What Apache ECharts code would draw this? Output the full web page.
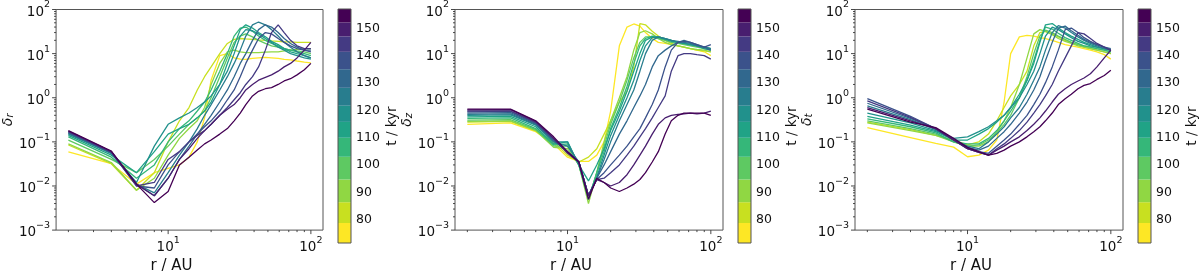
<!DOCTYPE html>
<html><head><meta charset="utf-8">
<script src="https://cdn.jsdelivr.net/npm/echarts@6/dist/echarts.min.js"></script>
<style>html,body{margin:0;padding:0;background:#fff}#c{width:1200px;height:279px}</style>
</head><body><div id="c"></div>
<script>
// ---------- data ----------
const radii = [2, 4, 6, 8, 10, 12, 14, 16, 18, 20, 23, 26, 29, 32, 35, 39, 43, 48, 53, 59, 65, 72, 80, 90, 100];
const times = [75.2, 82.5, 90.4, 99.1, 107.0, 113.0, 118.6, 124.8, 131.7, 138.4, 144.4, 149.7, 154.6];
const lineColors = ['#fde725', '#c8e020', '#90d743', '#5ec962', '#35b779', '#20a386', '#21918c', '#287d8e', '#31688e', '#3b528b', '#443a83', '#481e6f', '#440154'];

const deltaR = [
  [0.059, 0.032, 0.011, 0.02, 0.025, 0.03, 0.045, 0.1, 0.35, 2.5, 9, 10, 8, 7.5, 7.4, 7.8, 8.0, 8.2, 8.0, 7.8, 7.4, 7.2, 6.8, 6.4, 6.2],
  [0.085, 0.032, 0.008, 0.02, 0.1, 0.3, 0.6, 1.5, 3, 5, 10, 17, 21, 22, 21.5, 21, 20.5, 20, 19.5, 19, 18.5, 18.5, 18, 18, 18],
  [0.09, 0.034, 0.008, 0.015, 0.05, 0.12, 0.2, 0.3, 0.6, 2, 6, 11, 12, 11, 10.5, 10.5, 10.5, 10.8, 11, 11, 11.5, 12, 12.5, 13, 13],
  [0.11, 0.04, 0.02, 0.04, 0.08, 0.15, 0.25, 0.35, 0.5, 1, 3, 8, 18, 25, 28, 24, 20, 17, 15, 14, 13, 12, 11.5, 11, 10],
  [0.13, 0.045, 0.015, 0.03, 0.1, 0.2, 0.3, 0.5, 0.8, 1.5, 4, 10, 25, 38, 40, 32, 25, 20, 17, 15, 13, 12, 11, 10, 9],
  [0.14, 0.05, 0.02, 0.06, 0.15, 0.2, 0.25, 0.35, 0.5, 0.8, 2, 6, 15, 35, 45, 38, 30, 24, 19, 16, 13, 11, 10, 9, 8],
  [0.15, 0.055, 0.012, 0.08, 0.25, 0.35, 0.45, 0.6, 0.8, 1.1, 2, 4, 10, 25, 35, 33, 28, 22, 18, 14, 12, 10, 9, 8, 7.5],
  [0.155, 0.055, 0.011, 0.007, 0.02, 0.05, 0.1, 0.2, 0.4, 0.7, 1.5, 3, 6, 12, 25, 45, 52, 45, 35, 25, 18, 14, 11, 9, 8],
  [0.16, 0.057, 0.011, 0.006, 0.015, 0.04, 0.08, 0.15, 0.25, 0.4, 0.8, 1.5, 3, 6, 10, 20, 35, 45, 40, 30, 22, 17, 14, 12, 12],
  [0.165, 0.058, 0.01, 0.009, 0.03, 0.06, 0.1, 0.15, 0.22, 0.3, 0.5, 0.9, 1.5, 3, 6, 12, 22, 30, 28, 22, 18, 15, 13, 12, 11],
  [0.17, 0.06, 0.01, 0.012, 0.04, 0.06, 0.1, 0.14, 0.18, 0.25, 0.4, 0.6, 0.9, 1.3, 2, 3, 5, 12, 30, 45, 30, 20, 15, 13, 13],
  [0.175, 0.06, 0.011, 0.006, 0.015, 0.04, 0.07, 0.12, 0.18, 0.25, 0.4, 0.55, 0.7, 1.0, 1.5, 2.0, 2.5, 2.9, 3.3, 4, 5, 6, 8, 12, 18],
  [0.18, 0.062, 0.011, 0.0042, 0.0075, 0.03, 0.045, 0.065, 0.09, 0.11, 0.15, 0.2, 0.3, 0.45, 0.7, 1.1, 1.4, 1.6, 1.7, 2.0, 2.4, 2.7, 3.3, 4.3, 6.0]
];

const deltaZ = [
  [0.25, 0.27, 0.17, 0.09, 0.045, 0.036, 0.036, 0.05, 0.1, 0.5, 15, 40, 47, 42, 30, 22, 18, 17, 16, 15, 14, 13, 12, 11, 9],
  [0.28, 0.29, 0.18, 0.1, 0.05, 0.035, 0.045, 0.07, 0.15, 0.3, 0.8, 1.4, 5, 48, 45, 32, 25, 20, 17, 15, 14, 13, 12, 11.5, 11],
  [0.29, 0.3, 0.18, 0.075, 0.07, 0.03, 0.004, 0.02, 0.1, 0.3, 1, 3, 12, 30, 33, 28, 22, 18, 16, 15, 14, 13, 12.5, 12, 11],
  [0.31, 0.32, 0.19, 0.08, 0.08, 0.03, 0.005, 0.02, 0.08, 0.25, 0.8, 2.5, 8, 18, 24, 24, 22, 20, 18, 17, 16, 15, 14, 13, 12],
  [0.34, 0.35, 0.2, 0.085, 0.09, 0.03, 0.005, 0.02, 0.06, 0.2, 0.6, 1.8, 6, 15, 22, 25, 24, 22, 20, 18, 17, 16, 15, 14, 13],
  [0.37, 0.38, 0.22, 0.09, 0.1, 0.03, 0.013, 0.03, 0.07, 0.18, 0.5, 1.4, 4, 10, 20, 24, 23, 21, 19, 18, 17, 16, 15, 14, 13],
  [0.4, 0.41, 0.24, 0.1, 0.1, 0.03, 0.006, 0.016, 0.05, 0.14, 0.4, 1, 2.5, 7, 15, 23, 24, 22, 20, 18, 17, 16, 15, 13, 12],
  [0.42, 0.43, 0.25, 0.1, 0.08, 0.035, 0.006, 0.015, 0.04, 0.1, 0.3, 0.7, 1.5, 4, 10, 20, 24, 22, 20, 19, 18, 17, 15, 14, 13],
  [0.45, 0.46, 0.26, 0.11, 0.06, 0.035, 0.006, 0.015, 0.03, 0.06, 0.15, 0.3, 0.6, 1.1, 2, 5, 9, 12, 15, 18, 20, 18, 16, 14, 12],
  [0.48, 0.49, 0.27, 0.11, 0.06, 0.035, 0.006, 0.014, 0.02, 0.03, 0.05, 0.08, 0.13, 0.2, 0.35, 0.7, 1.5, 5, 12, 18, 19, 18, 16, 14, 16],
  [0.5, 0.5, 0.28, 0.12, 0.06, 0.035, 0.006, 0.014, 0.015, 0.02, 0.03, 0.05, 0.08, 0.13, 0.2, 0.35, 0.6, 1.1, 4, 9, 10, 10, 9.5, 9, 7.5],
  [0.53, 0.54, 0.29, 0.12, 0.055, 0.035, 0.006, 0.014, 0.012, 0.01, 0.012, 0.018, 0.03, 0.05, 0.08, 0.15, 0.25, 0.35, 0.4, 0.42, 0.43, 0.45, 0.43, 0.45, 0.5],
  [0.55, 0.55, 0.3, 0.13, 0.06, 0.035, 0.005, 0.015, 0.012, 0.009, 0.0075, 0.009, 0.011, 0.014, 0.02, 0.035, 0.06, 0.15, 0.3, 0.4, 0.45, 0.45, 0.45, 0.45, 0.4]
];

const deltaT = [
  [0.21, 0.125, 0.092, 0.076, 0.046, 0.05, 0.065, 0.11, 0.8, 10, 24, 26, 25, 23, 22, 20, 18, 16, 15, 14, 13, 12, 11, 9.5, 7.5],
  [0.28, 0.19, 0.14, 0.11, 0.085, 0.1, 0.15, 0.3, 0.6, 1.1, 2, 4, 15, 30, 32, 28, 24, 20, 18, 16, 14, 13, 12, 11, 10],
  [0.27, 0.18, 0.14, 0.1, 0.08, 0.08, 0.1, 0.17, 0.3, 0.6, 2, 8, 28, 35, 32, 27, 22, 19, 17, 15, 14, 13, 12, 11, 10],
  [0.3, 0.2, 0.15, 0.1, 0.08, 0.085, 0.11, 0.16, 0.25, 0.4, 1, 3, 10, 25, 34, 30, 25, 21, 18, 16, 15, 14, 13, 12, 11],
  [0.33, 0.22, 0.16, 0.1, 0.09, 0.09, 0.12, 0.18, 0.3, 0.5, 1, 2.5, 7, 20, 40, 36, 29, 23, 20, 17, 15, 14, 13, 12, 11],
  [0.38, 0.24, 0.17, 0.11, 0.11, 0.15, 0.2, 0.28, 0.4, 0.6, 1.2, 2.5, 6, 18, 45, 48, 38, 30, 25, 21, 18, 16, 14, 13, 12],
  [0.45, 0.27, 0.18, 0.12, 0.13, 0.17, 0.22, 0.3, 0.4, 0.6, 1, 2, 4, 10, 25, 40, 35, 28, 23, 19, 17, 15, 14, 13, 12],
  [0.65, 0.32, 0.19, 0.11, 0.08, 0.07, 0.1, 0.15, 0.22, 0.35, 0.6, 1.2, 2.5, 5, 12, 30, 43, 38, 30, 24, 20, 17, 15, 13, 12],
  [0.75, 0.34, 0.2, 0.11, 0.075, 0.065, 0.08, 0.12, 0.17, 0.25, 0.45, 0.8, 1.5, 3, 7, 18, 38, 42, 33, 26, 21, 18, 16, 14, 13],
  [0.95, 0.38, 0.2, 0.11, 0.07, 0.06, 0.055, 0.08, 0.11, 0.15, 0.25, 0.4, 0.7, 1.2, 2.2, 5, 12, 35, 38, 30, 23, 19, 16, 14, 12],
  [0.85, 0.36, 0.2, 0.11, 0.07, 0.058, 0.05, 0.07, 0.09, 0.12, 0.18, 0.28, 0.45, 0.7, 1.1, 2, 4, 8, 15, 30, 28, 22, 17, 14, 12],
  [0.6, 0.3, 0.2, 0.11, 0.07, 0.058, 0.05, 0.065, 0.08, 0.1, 0.13, 0.18, 0.25, 0.35, 0.5, 0.8, 1.2, 1.6, 2, 2.4, 2.8, 3.5, 5, 8, 12],
  [0.55, 0.28, 0.21, 0.12, 0.075, 0.06, 0.05, 0.055, 0.065, 0.08, 0.1, 0.13, 0.17, 0.22, 0.3, 0.45, 0.7, 0.95, 1.2, 1.6, 1.9, 2.1, 2.6, 3.2, 4.2]
];

const panelData = [deltaR, deltaZ, deltaT];
const panelSubscripts = ['r', 'z', 't'];
const xRange = [1.64, 121.6];
const yRange = [0.001, 100];
const xMajorTicks = [10, 100];
const xMinorTicks = [2, 3, 4, 5, 6, 7, 8, 9, 20, 30, 40, 50, 60, 70, 80, 90];
const yMajorTicks = [0.001, 0.01, 0.1, 1, 10, 100];
const yMinorTicks = [];
[0.001, 0.01, 0.1, 1, 10].forEach(d => { for (let k = 2; k <= 9; k++) yMinorTicks.push(d * k); });
const colorbarTicks = [80, 90, 100, 110, 120, 130, 140, 150];

// ---------- build ----------
const FONT = 'DejaVu Sans';
const TXT = '#111';
const FRAME = '#555';
const PANEL_LEFT = [55, 455, 855];
const CB_LEFT = [338, 738, 1138];
const TOP = 9, H = 234, W = 268, CBW = 13;

const edges = [];
edges.push(times[0] - (times[1] - times[0]) / 2);
for (let i = 0; i < times.length - 1; i++) edges.push((times[i] + times[i + 1]) / 2);
edges.push(times[times.length - 1] + (times[times.length - 1] - times[times.length - 2]) / 2);

function powLabel(v) {
  const e = Math.round(Math.log10(v));
  return '{b|10}{sup|' + (e < 0 ? '\u2212' + (-e) : e) + '}';
}
const richPow = {
  b: { fontFamily: FONT, fontSize: 13.5, color: TXT, lineHeight: 19, verticalAlign: 'bottom' },
  sup: { fontFamily: FONT, fontSize: 9.5, color: TXT, lineHeight: 11, verticalAlign: 'top' }
};

const grid = [], xAxis = [], yAxis = [], series = [];

function tickSeries(gi, values, isX, len) {
  return {
    type: 'custom', xAxisIndex: gi, yAxisIndex: gi, clip: false, silent: true, z: 5,
    data: values.map(v => isX ? [v, 1] : [10, v]),
    renderItem: (params, api) => {
      const cs = params.coordSys;
      const p = api.coord([api.value(0), api.value(1)]);
      if (isX) {
        const yb = cs.y + cs.height;
        return { type: 'line', shape: { x1: p[0], y1: yb, x2: p[0], y2: yb + len }, style: { stroke: '#333', lineWidth: 0.9 } };
      }
      return { type: 'line', shape: { x1: cs.x - len, y1: p[1], x2: cs.x, y2: p[1] }, style: { stroke: '#333', lineWidth: 0.9 } };
    }
  };
}

for (let p = 0; p < 3; p++) {
  const gi = p;
  grid.push({ left: PANEL_LEFT[p], top: TOP, width: W, height: H, show: true, borderColor: FRAME, borderWidth: 1, backgroundColor: 'transparent' });
  xAxis.push({
    type: 'log', logBase: 10, gridIndex: gi, min: xRange[0], max: xRange[1],
    axisLine: { show: false }, axisTick: { show: false }, splitLine: { show: false },
    axisLabel: { formatter: powLabel, rich: richPow, margin: 5, showMinLabel: false, showMaxLabel: false },
    name: 'r / AU', nameLocation: 'middle', nameGap: 27,
    nameTextStyle: { fontFamily: FONT, fontSize: 15, color: TXT, padding: [0, 36, 0, 0] }
  });
  yAxis.push({
    type: 'log', logBase: 10, gridIndex: gi, min: yRange[0], max: yRange[1],
    axisLine: { show: false }, axisTick: { show: false }, splitLine: { show: false },
    axisLabel: { formatter: powLabel, rich: richPow, margin: 6 },
    name: '{d|\u03b4}{s|' + panelSubscripts[p] + '}', nameLocation: 'middle', nameGap: 38, nameRotate: 90,
    nameTextStyle: {
      rich: {
        d: { fontFamily: FONT, fontSize: 14, fontStyle: 'italic', color: TXT, lineHeight: 18, verticalAlign: 'bottom' },
        s: { fontFamily: FONT, fontSize: 10, fontStyle: 'italic', color: TXT, lineHeight: 12, verticalAlign: 'bottom' }
      }
    }
  });
  const data = panelData[p];
  data.forEach((vals, i) => {
    series.push({
      type: 'line', xAxisIndex: gi, yAxisIndex: gi, showSymbol: false, silent: true,
      data: radii.map((r, k) => [r, vals[k]]),
      lineStyle: { color: lineColors[i], width: 1.3 }, itemStyle: { color: lineColors[i] },
      z: 2 + i * 0.01
    });
  });
  series.push(tickSeries(gi, xMajorTicks, true, 4));
  series.push(tickSeries(gi, xMinorTicks, true, 2));
  series.push(tickSeries(gi, yMajorTicks, false, 4));
  series.push(tickSeries(gi, yMinorTicks, false, 2));
}

for (let p = 0; p < 3; p++) {
  const gi = 3 + p;
  grid.push({ left: CB_LEFT[p], top: TOP, width: CBW, height: H, show: true, borderColor: FRAME, borderWidth: 1, backgroundColor: 'transparent', z: 3 });
  xAxis.push({ type: 'value', gridIndex: gi, min: 0, max: 1, show: false });
  yAxis.push({
    type: 'value', gridIndex: gi, min: edges[0], max: edges[edges.length - 1], position: 'right',
    axisLine: { show: false }, splitLine: { show: false },
    axisTick: { show: true, length: 4, lineStyle: { color: '#333', width: 0.9 }, customValues: colorbarTicks },
    axisLabel: { customValues: colorbarTicks, fontFamily: FONT, fontSize: 12.5, color: TXT, margin: 5 },
    name: 't / kyr', nameLocation: 'middle', nameGap: 34, nameRotate: 90,
    nameTextStyle: { fontFamily: FONT, fontSize: 13.5, color: TXT }
  });
  series.push({
    type: 'custom', xAxisIndex: gi, yAxisIndex: gi, silent: true,
    data: times.map((t, i) => [0, edges[i], edges[i + 1], i]),
    encode: { x: 0, y: [1, 2] },
    renderItem: (params, api) => {
      const a = api.coord([0, api.value(1)]);
      const b = api.coord([1, api.value(2)]);
      return { type: 'rect', shape: { x: a[0], y: b[1], width: b[0] - a[0], height: a[1] - b[1] }, style: { fill: lineColors[api.value(3)] } };
    }
  });
}

const chart = echarts.init(document.getElementById('c'), null, { renderer: 'canvas' });
chart.setOption({ animation: false, backgroundColor: '#fff', grid, xAxis, yAxis, series });
</script></body></html>
